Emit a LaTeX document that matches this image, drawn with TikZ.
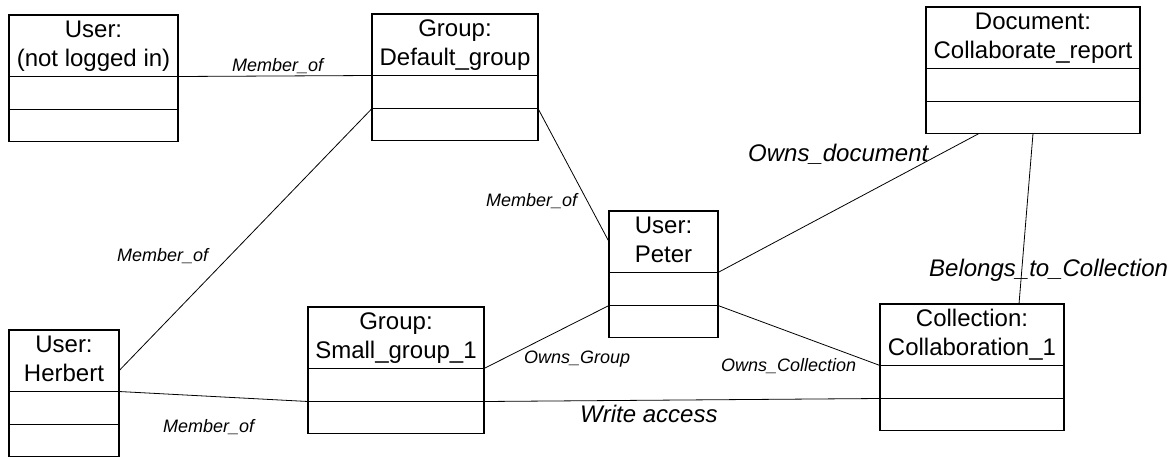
\documentclass[tikz,border=0pt]{standalone}
\usepackage{fontspec}
\setmainfont{Liberation Sans}
\usetikzlibrary{calc}
\tikzset{
  part/.style={draw, line width=1.2pt, inner sep=0pt, outer sep=0pt},
  titlepart/.style={part, minimum height=61.5, align=center,
    font=\fontsize{24}{29}\selectfont},
  midpart/.style={part, minimum height=33},
  botpart/.style={part, minimum height=32},
  link/.style={line width=0.8pt},
  smalllabel/.style={anchor=base west, inner sep=0pt,
    font=\fontsize{18}{22}\selectfont\itshape},
  biglabel/.style={anchor=base west, inner sep=0pt,
    font=\fontsize{24}{29}\selectfont\itshape},
}
% object box: name, left x, top y, width, first line, second line
\newcommand\objbox[6]{%
  \node[titlepart, minimum width=#4, anchor=north west] (#1-t) at (#2,#3) {\strut #5\\#6\strut};
  \node[midpart, minimum width=#4, anchor=north] (#1-m) at (#1-t.south) {};
  \node[botpart, minimum width=#4, anchor=north] (#1-b) at (#1-m.south) {};
}
\begin{document}
\begin{tikzpicture}[x=1pt,y=-1pt]
\useasboundingbox (0,0) rectangle (1172,458);

% objects
\objbox{anon}{9}{15}{169}{User:}{(not logged in)}
\objbox{defgrp}{372}{14}{166}{Group:}{Default\_group}
\objbox{doc}{926}{7}{214}{Document:}{Collaborate\_report}
\objbox{peter}{609}{211}{109}{User:}{Peter}
\objbox{herbert}{9}{330}{110}{User:}{Herbert}
\objbox{smgrp}{308}{307}{176}{Group:}{Small\_group\_1}
\objbox{coll}{880}{304}{184}{Collection:}{Collaboration\_1}

% links
\draw[link] (anon-t.south east) -- (defgrp-t.south west);
\draw[link] (defgrp-m.south west) -- ($(herbert-t.east)+(0,10)$);
\draw[link] (defgrp-m.south east) -- (peter-t.west);
\draw[link] (peter-t.south east) -- ($(doc-b.south west)+(53,0)$);
\draw[link] (doc-b.south) -- ($(coll-t.north)+(47,0)$);
\draw[link] (peter-m.south west) -- (smgrp-t.south east);
\draw[link] (peter-m.south east) -- (coll-t.south west);
\draw[link] (herbert-t.south east) -- (smgrp-m.south west);
\draw[link] (smgrp-m.south east) -- (coll-m.south west);

% link labels
\node[smalllabel] (l-anon) at (232,71.5) {Member\_of};
\node[smalllabel] (l-herbdef) at (117,261.5) {Member\_of};
\node[smalllabel] (l-peterdef) at (486,206.5) {Member\_of};
\node[biglabel] (l-owndoc) at (748,161) {Owns\_document};
\node[biglabel] (l-belongs) at (929,276) {Belongs\_to\_Collection};
\node[smalllabel] (l-owngrp) at (524,363.5) {Owns\_Group};
\node[smalllabel] (l-owncoll) at (721,371.5) {Owns\_Collection};
\node[smalllabel] (l-herbsm) at (163,432.5) {Member\_of};
\node[biglabel] (l-write) at (580,422) {Write access};
\end{tikzpicture}
\end{document}
